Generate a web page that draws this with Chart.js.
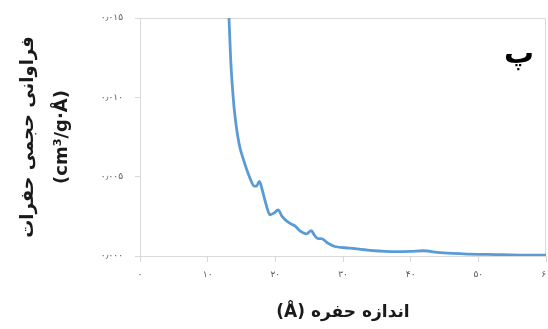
<!DOCTYPE html>
<html>
<head>
<meta charset="utf-8">
<script src="https://cdn.jsdelivr.net/npm/chart.js@4/dist/chart.umd.min.js"></script>
<style>
html,body{margin:0;padding:0;background:#fff;}
#wrap{width:548px;height:329px;position:relative;}
canvas{direction:rtl;}
</style>
</head>
<body>
<div id="wrap"><canvas id="c" width="548" height="329"></canvas></div>
<script>
// ---- data ----
const poreSize = [13.0, 13.15, 13.4, 13.65, 13.94, 14.63, 15.27, 16.26, 16.9, 17.2, 17.65, 18.1, 18.6, 19.2, 19.8, 20.4, 21.0, 21.7, 22.4, 22.9, 23.6, 24.6, 25.3, 25.8, 26.3, 26.8, 27.8, 28.8, 31.0, 34.0, 37.9, 40.0, 41.9, 44.3, 47.8, 52.7, 56.0, 60.0];
const volumeFrequency = [0.0162, 0.0150, 0.0124, 0.0107, 0.0092, 0.0071, 0.0061, 0.0049, 0.0044, 0.0044, 0.0047, 0.0041, 0.0033, 0.0026, 0.0027, 0.0029, 0.0025, 0.0022, 0.0020, 0.0019, 0.0016, 0.0014, 0.0016, 0.0013, 0.0011, 0.0011, 0.0008, 0.0006, 0.0005, 0.00036, 0.00027, 0.00029, 0.00033, 0.00021, 0.00014, 0.00009, 0.00006, 0.00005];
const xTickValues = [0, 10, 20, 30, 40, 50, 60];
const xTickLabels = ['۰', '۱۰', '۲۰', '۳۰', '۴۰', '۵۰', '۶۰'];
const yTickValues = [0, 0.005, 0.010, 0.015];
const yTickLabels = ['۰٫۰۰۰', '۰٫۰۰۵', '۰٫۰۱۰', '۰٫۰۱۵'];
const xTitle = 'اندازه حفره (Å)';
const yTitle = ['فراوانی حجمی حفرات', '(cm³/g·Å)'];
const panelLabel = 'پ';

const points = poreSize.map((x, i) => ({x: x, y: volumeFrequency[i]}));

const frameAndLabel = {
  id: 'frameAndLabel',
  beforeDatasetsDraw(chart) {
    const {ctx, chartArea: a} = chart;
    ctx.save();
    ctx.strokeStyle = '#d9d9d9';
    ctx.lineWidth = 1;
    ctx.beginPath();
    ctx.moveTo(a.left, a.top + 0.5);
    ctx.lineTo(a.right - 0.5, a.top + 0.5);
    ctx.lineTo(a.right - 0.5, a.bottom);
    ctx.stroke();
    ctx.restore();
  },
  afterDraw(chart) {
    const {ctx} = chart;
    ctx.save();
    ctx.fillStyle = '#000';
    ctx.font = 'bold 30px "DejaVu Sans"';
    ctx.textAlign = 'center';
    ctx.textBaseline = 'middle';
    ctx.fillText(panelLabel, 519, 55);
    ctx.restore();
  }
};

new Chart(document.getElementById('c'), {
  type: 'line',
  data: {
    datasets: [{
      data: points,
      borderColor: '#5b9bd5',
      borderWidth: 2.8,
      pointRadius: 0,
      fill: false,
      cubicInterpolationMode: 'monotone',
      clip: 0
    }]
  },
  options: {
    responsive: false,
    animation: false,
    layout: {padding: {top: 18, right: 2, left: 0, bottom: 0}},
    plugins: {legend: {display: false}, tooltip: {enabled: false}},
    scales: {
      x: {
        type: 'linear',
        min: 0, max: 60,
        afterBuildTicks(scale) { scale.ticks = xTickValues.map(v => ({value: v})); },
        afterFit(scale) { scale.height = 73; scale.paddingLeft = 0; scale.paddingRight = 0; },
        ticks: {
          callback: (v) => xTickLabels[xTickValues.indexOf(v)],
          color: '#595959',
          font: {family: 'DejaVu Sans', size: 9},
          padding: 7,
          maxRotation: 0,
          autoSkip: false
        },
        grid: {drawOnChartArea: false, drawTicks: true, tickLength: 6, color: '#d9d9d9'},
        border: {color: '#d9d9d9', width: 1},
        title: {
          display: true,
          text: xTitle,
          color: '#1a1a1a',
          font: {family: 'DejaVu Sans', size: 17, weight: 'bold'},
          padding: {top: 0, bottom: 6}
        }
      },
      y: {
        type: 'linear',
        min: 0, max: 0.015,
        afterBuildTicks(scale) { scale.ticks = yTickValues.map(v => ({value: v})); },
        afterFit(scale) { scale.width = 140; scale.paddingTop = 0; scale.paddingBottom = 0; },
        ticks: {
          callback: (v) => yTickLabels[yTickValues.findIndex(t => Math.abs(t - v) < 1e-9)],
          color: '#595959',
          font: {family: 'DejaVu Sans', size: 9},
          padding: 12
        },
        grid: {drawOnChartArea: false, drawTicks: true, tickLength: 5, color: '#d9d9d9'},
        border: {color: '#d9d9d9', width: 1},
        title: {
          display: true,
          text: yTitle,
          color: '#1a1a1a',
          font: {family: 'DejaVu Sans', size: 18, weight: 'bold', lineHeight: 1.9},
          padding: {top: 11, bottom: 0}
        }
      }
    }
  },
  plugins: [frameAndLabel]
});
</script>
</body>
</html>
